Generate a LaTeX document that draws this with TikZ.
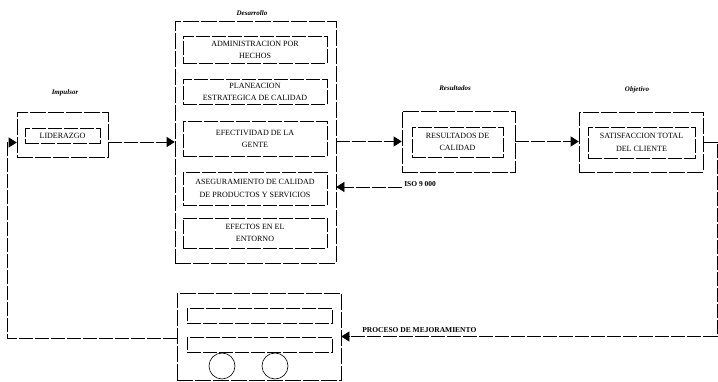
\documentclass[tikz,border=0pt]{standalone}
\usepackage{fontspec}
\setmainfont{Liberation Serif}
\usetikzlibrary{positioning,arrows.meta}

\begin{document}
\begin{tikzpicture}[x=1pt,y=-1pt,line width=0.6pt,
    font=\fontsize{8}{12.5}\selectfont,
    outer/.style={draw,dash pattern=on 16pt off 2pt,inner sep=0pt},
    inner/.style={draw,dash pattern=on 14pt off 2pt,inner sep=0pt,align=center},
    head/.style={font=\fontsize{7}{8}\selectfont\bfseries\itshape},
    tag/.style={font=\fontsize{7.5}{9}\selectfont\bfseries,inner sep=1pt},
    link/.style={dash pattern=on 14pt off 2pt,-{Triangle[length=8pt,width=10pt]}}]
  \useasboundingbox (0,0) rectangle (718,382);

  % Impulsor
  \node[head] (himp) at (65,93) {Impulsor};
  \node[outer,minimum width=91pt,minimum height=45pt] (lid) at (62.5,134.5) {};
  \node[inner,minimum width=75pt,minimum height=15pt] (lidi) at (62.5,135.5) {LIDERAZGO};

  % Desarrollo -- five areas inside one frame
  \node[head] (hdes) at (252,13) {Desarrollo};
  \node[outer,minimum width=161pt,minimum height=242pt] (des) at (255.5,142) {};
  \foreach \n/\y/\h/\t in {1/50/27/{ADMINISTRACION POR\\HECHOS},
                           2/92/25/{PLANEACION\\ESTRATEGICA DE CALIDAD},
                           3/139/35/{EFECTIVIDAD DE LA\\GENTE},
                           4/188.5/33/{ASEGURAMIENTO DE CALIDAD\\DE PRODUCTOS Y SERVICIOS},
                           5/233/30/{EFECTOS EN EL\\ENTORNO}} {
      \node[inner,minimum width=144pt,minimum height=\h pt] (d\n) at (255,\y) {\t};
  }

  % Resultados
  \node[head] (hres) at (455,88) {Resultados};
  \node[outer,minimum width=113pt,minimum height=61pt] (res) at (458.5,141.5) {};
  \node[inner,minimum width=91pt,minimum height=30pt] (resi) at (457.5,142) {RESULTADOS DE\\CALIDAD};

  % Objetivo
  \node[head] (hobj) at (637,90) {Objetivo};
  \node[outer,minimum width=124pt,minimum height=60pt] (obj) at (641,142) {};
  \node[inner,minimum width=107pt,minimum height=31pt] (obji) at (641.5,142.5) {SATISFACCION TOTAL\\DEL CLIENTE};

  % mejoramiento -- frame with two bars and two wheels
  \node[outer,minimum width=164pt,minimum height=87pt] (bot) at (259,336.5) {};
  \node[inner,minimum width=145pt,minimum height=15pt] (bar1) at (259.5,315.5) {};
  \node[inner,minimum width=145pt,minimum height=15pt] (bar2) at (259.5,344.5) {};
  \node[draw,circle,minimum size=26pt,inner sep=0pt] (w1) at (222,366) {};
  \node[draw,circle,minimum size=26pt,inner sep=0pt] (w2) at (275,366) {};

  % flow from left to right
  \draw[link] (lid.east |- des.west) -- (des.west);
  \draw[link] (des.east |- res.west) -- (res.west);
  \draw[link] (res.east) -- (obj.west |- res.east);

  % ISO 9 000 back into Desarrollo
  \coordinate (iso) at (402,187);
  \draw[link] (iso) -- (iso -| des.east);
  \node[tag,anchor=west] (isot) at (403,184) {ISO 9 000};

  % loop back through the improvement process
  \coordinate (rt) at (717,142);
  \draw[link] (obj.east) -- (rt) |- (bot.east);
  \node[tag,anchor=west] (proc) at (361,330) {PROCESO DE MEJORAMIENTO};
  \coordinate (lf) at (7,338);
  \draw[link] (bot.west |- lf) -- (lf) |- ([yshift=-8pt]lid.west);
\end{tikzpicture}
\end{document}
